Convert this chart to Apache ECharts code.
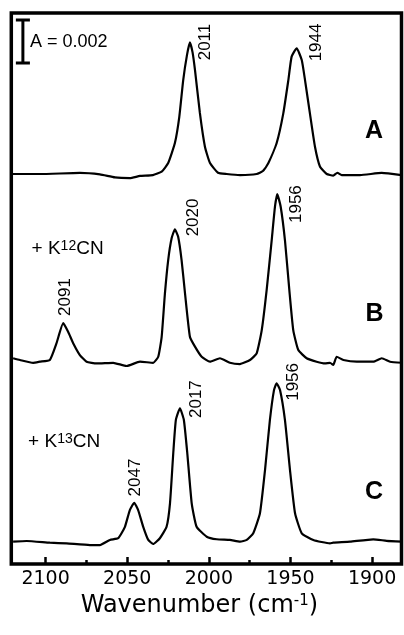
<!DOCTYPE html>
<html>
<head>
<meta charset="utf-8">
<script src="https://cdn.jsdelivr.net/npm/echarts@6/dist/echarts.min.js"></script>
<style>
  html, body { margin: 0; padding: 0; background: #fff; }
  #chart { width: 404px; height: 635px; }
</style>
</head>
<body>
<div id="chart"></div>
<script>
// absorbance in mA units (0.001), traces already offset as drawn
const spectrumA = [
  [2120.0, 18.14], [2103.5, 18.14], [2079.0, 18.19], [2066.7, 18.12], [2057.5, 17.98],
  [2048.4, 17.95], [2042.2, 18.05], [2034.3, 18.09], [2028.9, 18.25], [2024.9, 18.65],
  [2020.8, 19.58], [2018.1, 20.80], [2015.7, 22.51], [2013.4, 23.67], [2011.6, 24.26],
  [2010.0, 23.81], [2008.5, 22.98], [2005.5, 20.98], [2002.4, 19.41], [1999.3, 18.65],
  [1994.4, 18.20], [1989.1, 18.14], [1980.9, 18.09], [1970.7, 18.14], [1966.9, 18.28],
  [1963.6, 18.64], [1958.5, 19.57], [1954.4, 20.96], [1951.3, 22.51], [1949.3, 23.60],
  [1946.2, 23.99], [1943.1, 23.44], [1941.1, 22.51], [1938.1, 20.96], [1935.0, 19.41],
  [1931.9, 18.48], [1927.8, 18.14], [1923.8, 18.07], [1921.3, 18.20], [1918.6, 18.09],
  [1907.4, 18.09], [1894.1, 18.19], [1882.0, 18.09]
];
const spectrumB = [
  [2119.9, 9.57], [2115.7, 9.49], [2107.6, 9.36], [2103.5, 9.41], [2097.4, 9.49],
  [2093.3, 10.27], [2089.2, 11.20], [2086.2, 10.80], [2083.1, 10.27], [2079.0, 9.72],
  [2074.9, 9.41], [2068.7, 9.33], [2058.6, 9.36], [2050.4, 9.21], [2042.2, 9.41],
  [2034.1, 9.36], [2031.0, 9.64], [2028.9, 10.57], [2026.9, 12.59], [2024.9, 14.14],
  [2022.8, 15.15], [2020.8, 15.57], [2018.8, 15.22], [2016.7, 14.14], [2014.6, 12.59],
  [2011.6, 10.57], [2008.5, 10.11], [2004.4, 9.64], [1999.3, 9.41], [1993.2, 9.57],
  [1987.1, 9.36], [1981.0, 9.30], [1974.8, 9.49], [1970.7, 9.80], [1967.6, 10.88],
  [1964.6, 12.74], [1961.5, 15.07], [1959.5, 16.62], [1958.1, 17.21], [1956.0, 16.62],
  [1953.4, 15.07], [1950.7, 12.74], [1948.3, 10.88], [1945.2, 9.95], [1940.1, 9.57],
  [1934.0, 9.41], [1928.9, 9.33], [1925.8, 9.36], [1923.8, 9.26], [1921.7, 9.64],
  [1917.6, 9.49], [1909.4, 9.41], [1899.3, 9.41], [1894.1, 9.57], [1889.0, 9.41],
  [1881.9, 9.36]
];
const spectrumC = [
  [2119.9, 1.04], [2111.6, 1.07], [2097.4, 0.99], [2087.1, 0.96], [2072.9, 0.88],
  [2066.7, 0.88], [2060.6, 1.12], [2055.5, 1.20], [2051.4, 1.73], [2048.4, 2.51],
  [2045.7, 2.85], [2043.3, 2.51], [2040.2, 1.73], [2037.1, 1.12], [2034.1, 0.93],
  [2030.0, 1.20], [2025.9, 1.73], [2023.8, 2.82], [2021.8, 5.15], [2020.2, 6.70],
  [2017.7, 7.24], [2015.3, 6.70], [2013.2, 5.15], [2010.5, 2.82], [2007.5, 1.73],
  [2001.3, 1.27], [1995.2, 1.15], [1987.1, 1.12], [1980.9, 1.04], [1976.8, 1.12],
  [1972.8, 1.43], [1968.7, 2.36], [1965.6, 4.37], [1962.6, 6.70], [1960.1, 8.09],
  [1958.5, 8.40], [1956.4, 8.09], [1953.4, 6.70], [1950.3, 4.37], [1947.2, 2.36],
  [1943.1, 1.43], [1936.0, 1.12], [1925.8, 0.96], [1923.8, 0.99], [1913.5, 1.04],
  [1899.3, 1.15], [1891.1, 1.08], [1881.9, 1.04]
];

const majorTicks = [2100, 2050, 2000, 1950, 1900];
const minorTicks = [2075, 2025, 1975, 1925];

const peakLabels = ['2011', '1944', '2091', '2020', '1956', '2047', '2017', '1956'];
const panelLetters = ['A', 'B', 'C'];
const reagents = ['12', '13'];        // + K(12)CN, + K(13)CN
const scaleBarValue = 2;              // mA  -> "A = 0.002"

// where the annotations sit, in axis units [wavenumber, mA]
const peakLabelAt = [
  [2002.0, 24.28], [1933.9, 24.26], [2088.2, 12.42], [2009.4, 16.12],
  [1946.6, 16.74], [2045.0, 4.02], [2007.9, 7.67], [1948.5, 8.47]
];
const letterAt = [[1898.8, 20.14], [1898.5, 11.63], [1898.8, 3.33]];
const reagentAt = [[2108.6, 14.67], [2110.7, 5.69]];
const barX = 2113.9, barTop = 25.3, barCap = 4.3;

const chart = echarts.init(document.getElementById('chart'), null, { renderer: 'canvas' });

const font = 'Liberation Sans, Arial, sans-serif';
const barBottom = barTop - scaleBarValue;
const barPath = [
  [barX + barCap, barBottom], [barX - barCap, barBottom], [barX, barBottom],
  [barX, barTop], [barX + barCap, barTop], [barX - barCap, barTop]
];

function traceSeries(name, data) {
  return {
    name: name,
    type: 'line',
    data: data,
    smooth: 0.15,
    symbol: 'none',
    lineStyle: { color: '#000', width: 2.2 },
    silent: true
  };
}

// plain black text, no halo
const txt = { color: '#000', textBorderWidth: 0, textBorderColor: 'transparent', fontFamily: font };

function textSeries(name, data, label) {
  return {
    name: name, type: 'scatter', symbolSize: 0, silent: true,
    itemStyle: { opacity: 1, color: 'transparent' },
    data: data,
    label: Object.assign({ show: true, position: 'inside', formatter: p => p.name }, label, txt)
  };
}

const option = {
  animation: false,
  backgroundColor: '#fff',
  grid: {
    left: 11.3, right: 2.5, top: 13, bottom: 71,
    show: true, borderColor: '#000', borderWidth: 3.5
  },
  xAxis: [
    {
      type: 'value', min: 1882, max: 2121, inverse: true, position: 'bottom',
      axisLine: { show: false },
      splitLine: { show: false },
      axisTick: {
        inside: true, length: 7, customValues: majorTicks,
        lineStyle: { color: '#000', width: 2.5 }
      },
      axisLabel: {
        customValues: majorTicks, margin: 6, formatter: v => String(v),
        color: '#000', fontSize: 19, fontFamily: 'DejaVu Sans'
      },
      name: 'Wavenumber (cm{sup|-1})',
      nameLocation: 'middle',
      nameGap: 20,
      nameTextStyle: {
        color: '#000', fontSize: 24, fontFamily: 'DejaVu Sans',
        padding: [0, 14, 0, 0],
        rich: { sup: { fontSize: 15, fontFamily: 'DejaVu Sans', color: '#000', verticalAlign: 'top' } }
      }
    },
    {
      type: 'value', min: 1882, max: 2121, inverse: true, position: 'bottom',
      axisLine: { show: false },
      splitLine: { show: false },
      axisLabel: { show: false },
      axisTick: {
        inside: true, length: 4, customValues: minorTicks,
        lineStyle: { color: '#000', width: 2.5 }
      }
    }
  ],
  yAxis: { type: 'value', min: 0, max: 25.63, show: false },
  series: [
    traceSeries('A', spectrumA),
    traceSeries('B', spectrumB),
    traceSeries('C', spectrumC),
    {
      name: 'scale', type: 'line', data: barPath, symbol: 'none',
      lineStyle: { color: '#000', width: 3 }, silent: true
    },
    textSeries('scaleText',
      [{ value: [barX - 4.3, barTop - scaleBarValue / 2], name: 'A = 0.00' + scaleBarValue }],
      { align: 'left', fontSize: 18 }),
    textSeries('peaks',
      peakLabels.map((t, i) => ({ value: peakLabelAt[i], name: t })),
      { rotate: 90, fontSize: 17 }),
    textSeries('letters',
      panelLetters.map((t, i) => ({ value: letterAt[i], name: t })),
      { fontSize: 25, fontWeight: 'bold' }),
    textSeries('reagents',
      reagents.map((t, i) => ({ value: reagentAt[i], name: t })),
      {
        align: 'left', fontSize: 19,
        formatter: p => '+ K{sup|' + p.name + '}CN',
        rich: { sup: { fontSize: 14, fontFamily: font, color: '#000', verticalAlign: 'top' } }
      })
  ]
};

chart.setOption(option);
window.addEventListener('resize', () => chart.resize());
</script>
</body>
</html>
